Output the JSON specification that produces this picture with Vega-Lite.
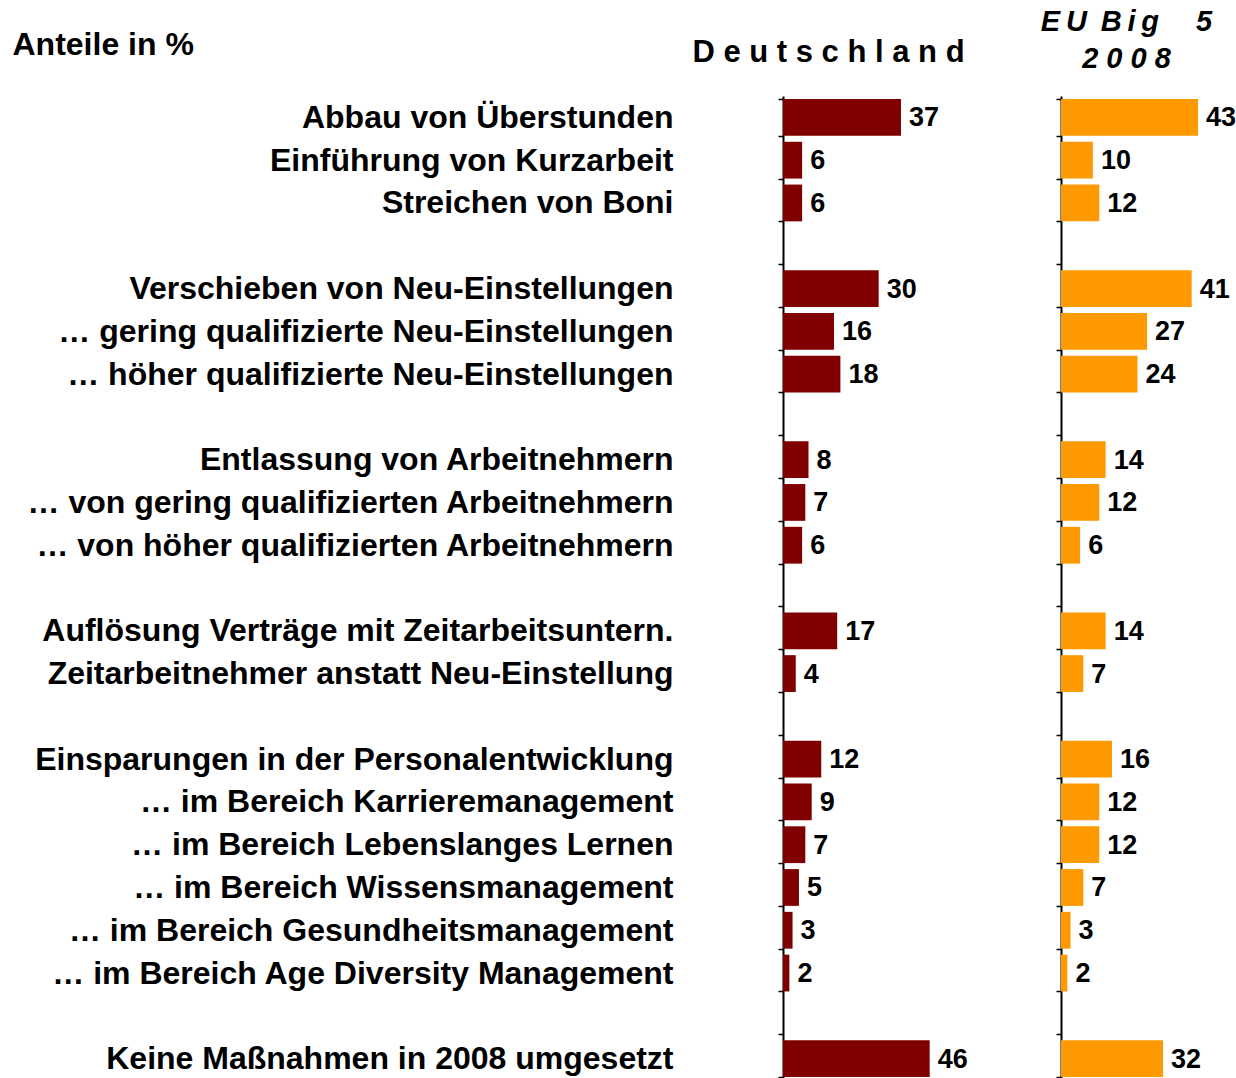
{
  "$schema": "https://vega.github.io/schema/vega-lite/v6.json",
  "padding": {"left": 12, "top": 7, "right": 0, "bottom": 0},
  "background": "white",
  "bounds": "flush",
  "spacing": 28,
  "config": {"view": {"stroke": null}, "font": "Liberation Sans"},
  "data": {"values": [
    {"Maßnahme": "Abbau von Überstunden", "Deutschland": 37, "EU": 43},
    {"Maßnahme": "Einführung von Kurzarbeit", "Deutschland": 6, "EU": 10},
    {"Maßnahme": "Streichen von Boni", "Deutschland": 6, "EU": 12},
    {"Maßnahme": "Verschieben von Neu-Einstellungen", "Deutschland": 30, "EU": 41},
    {"Maßnahme": "… gering qualifizierte Neu-Einstellungen", "Deutschland": 16, "EU": 27},
    {"Maßnahme": "… höher qualifizierte Neu-Einstellungen", "Deutschland": 18, "EU": 24},
    {"Maßnahme": "Entlassung von Arbeitnehmern", "Deutschland": 8, "EU": 14},
    {"Maßnahme": "… von gering qualifizierten Arbeitnehmern", "Deutschland": 7, "EU": 12},
    {"Maßnahme": "… von höher qualifizierten Arbeitnehmern", "Deutschland": 6, "EU": 6},
    {"Maßnahme": "Auflösung Verträge mit Zeitarbeitsuntern.", "Deutschland": 17, "EU": 14},
    {"Maßnahme": "Zeitarbeitnehmer anstatt Neu-Einstellung", "Deutschland": 4, "EU": 7},
    {"Maßnahme": "Einsparungen in der Personalentwicklung", "Deutschland": 12, "EU": 16},
    {"Maßnahme": "… im Bereich Karrieremanagement", "Deutschland": 9, "EU": 12},
    {"Maßnahme": "… im Bereich Lebenslanges Lernen", "Deutschland": 7, "EU": 12},
    {"Maßnahme": "… im Bereich Wissensmanagement", "Deutschland": 5, "EU": 7},
    {"Maßnahme": "… im Bereich Gesundheitsmanagement", "Deutschland": 3, "EU": 3},
    {"Maßnahme": "… im Bereich Age Diversity Management", "Deutschland": 2, "EU": 2},
    {"Maßnahme": "Keine Maßnahmen in 2008 umgesetzt", "Deutschland": 46, "EU": 32}
  ]},
  "hconcat": [
    {
      "width": 250,
      "height": 984,
      "encoding": {
        "y": {
          "field": "Maßnahme", "type": "nominal",
          "scale": {"domain": [
            "Abbau von Überstunden", "Einführung von Kurzarbeit", "Streichen von Boni", " ",
            "Verschieben von Neu-Einstellungen", "… gering qualifizierte Neu-Einstellungen", "… höher qualifizierte Neu-Einstellungen", "  ",
            "Entlassung von Arbeitnehmern", "… von gering qualifizierten Arbeitnehmern", "… von höher qualifizierten Arbeitnehmern", "   ",
            "Auflösung Verträge mit Zeitarbeitsuntern.", "Zeitarbeitnehmer anstatt Neu-Einstellung", "    ",
            "Einsparungen in der Personalentwicklung", "… im Bereich Karrieremanagement", "… im Bereich Lebenslanges Lernen", "… im Bereich Wissensmanagement", "… im Bereich Gesundheitsmanagement", "… im Bereich Age Diversity Management", "     ",
            "Keine Maßnahmen in 2008 umgesetzt"
          ], "paddingInner": 0.14, "paddingOuter": 0.07},
          "axis": {
            "title": "Anteile in %", "titleAngle": 0, "titleAlign": "left", "titleBaseline": "alphabetic",
            "titleX": -771, "titleY": -42, "titleFontSize": 32, "titleFontWeight": "bold", "titleColor": "black",
            "labelFontSize": 32, "labelFontWeight": "bold", "labelColor": "black", "labelPadding": 105, "labelLimit": 900,
            "tickSize": 5, "tickColor": "black", "tickWidth": 1.5, "tickBand": "extent",
            "domainColor": "black", "domainWidth": 2
          }
        },
        "x": {
          "field": "Deutschland", "type": "quantitative",
          "scale": {"domain": [0, 78.4], "nice": false},
          "axis": {
            "orient": "top", "title": "D e u t s c h l a n d", "titleAngle": 0, "titleAlign": "center", "titleBaseline": "alphabetic",
            "titleX": 45, "titleY": -35, "titleFontSize": 31, "titleFontWeight": "bold", "titleColor": "black",
            "labels": false, "ticks": false, "domain": false, "grid": false
          }
        }
      },
      "layer": [
        {"mark": {"type": "bar", "color": "#800000"}},
        {"mark": {"type": "text", "align": "left", "dx": 8, "dy": 1, "fontSize": 27, "fontWeight": "bold", "color": "black"},
         "encoding": {"text": {"field": "Deutschland", "type": "quantitative"}}}
      ]
    },
    {
      "width": 175,
      "height": 984,
      "encoding": {
        "y": {
          "field": "Maßnahme", "type": "nominal",
          "scale": {"domain": [
            "Abbau von Überstunden", "Einführung von Kurzarbeit", "Streichen von Boni", " ",
            "Verschieben von Neu-Einstellungen", "… gering qualifizierte Neu-Einstellungen", "… höher qualifizierte Neu-Einstellungen", "  ",
            "Entlassung von Arbeitnehmern", "… von gering qualifizierten Arbeitnehmern", "… von höher qualifizierten Arbeitnehmern", "   ",
            "Auflösung Verträge mit Zeitarbeitsuntern.", "Zeitarbeitnehmer anstatt Neu-Einstellung", "    ",
            "Einsparungen in der Personalentwicklung", "… im Bereich Karrieremanagement", "… im Bereich Lebenslanges Lernen", "… im Bereich Wissensmanagement", "… im Bereich Gesundheitsmanagement", "… im Bereich Age Diversity Management", "     ",
            "Keine Maßnahmen in 2008 umgesetzt"
          ], "paddingInner": 0.14, "paddingOuter": 0.07},
          "axis": {
            "title": null, "labels": false,
            "tickSize": 5, "tickColor": "black", "tickWidth": 1.5, "tickBand": "extent",
            "domainColor": "black", "domainWidth": 2
          }
        },
        "x": {
          "field": "EU", "type": "quantitative",
          "scale": {"domain": [0, 54.9], "nice": false},
          "axis": {
            "orient": "top", "title": ["E\u2009U \u2009B\u2009i\u2009g\u2003 5", "2 0 0 8"], "titleAngle": 0, "titleAlign": "center", "titleBaseline": "alphabetic",
            "titleX": 65, "titleY": -66, "titleFontSize": 29, "titleFontWeight": "bold", "titleFontStyle": "italic", "titleLineHeight": 37, "titleColor": "black",
            "labels": false, "ticks": false, "domain": false, "grid": false
          }
        }
      },
      "layer": [
        {"mark": {"type": "bar", "color": "#FF9900"}},
        {"mark": {"type": "text", "align": "left", "dx": 8, "dy": 1, "fontSize": 27, "fontWeight": "bold", "color": "black"},
         "encoding": {"text": {"field": "EU", "type": "quantitative"}}}
      ]
    }
  ]
}
